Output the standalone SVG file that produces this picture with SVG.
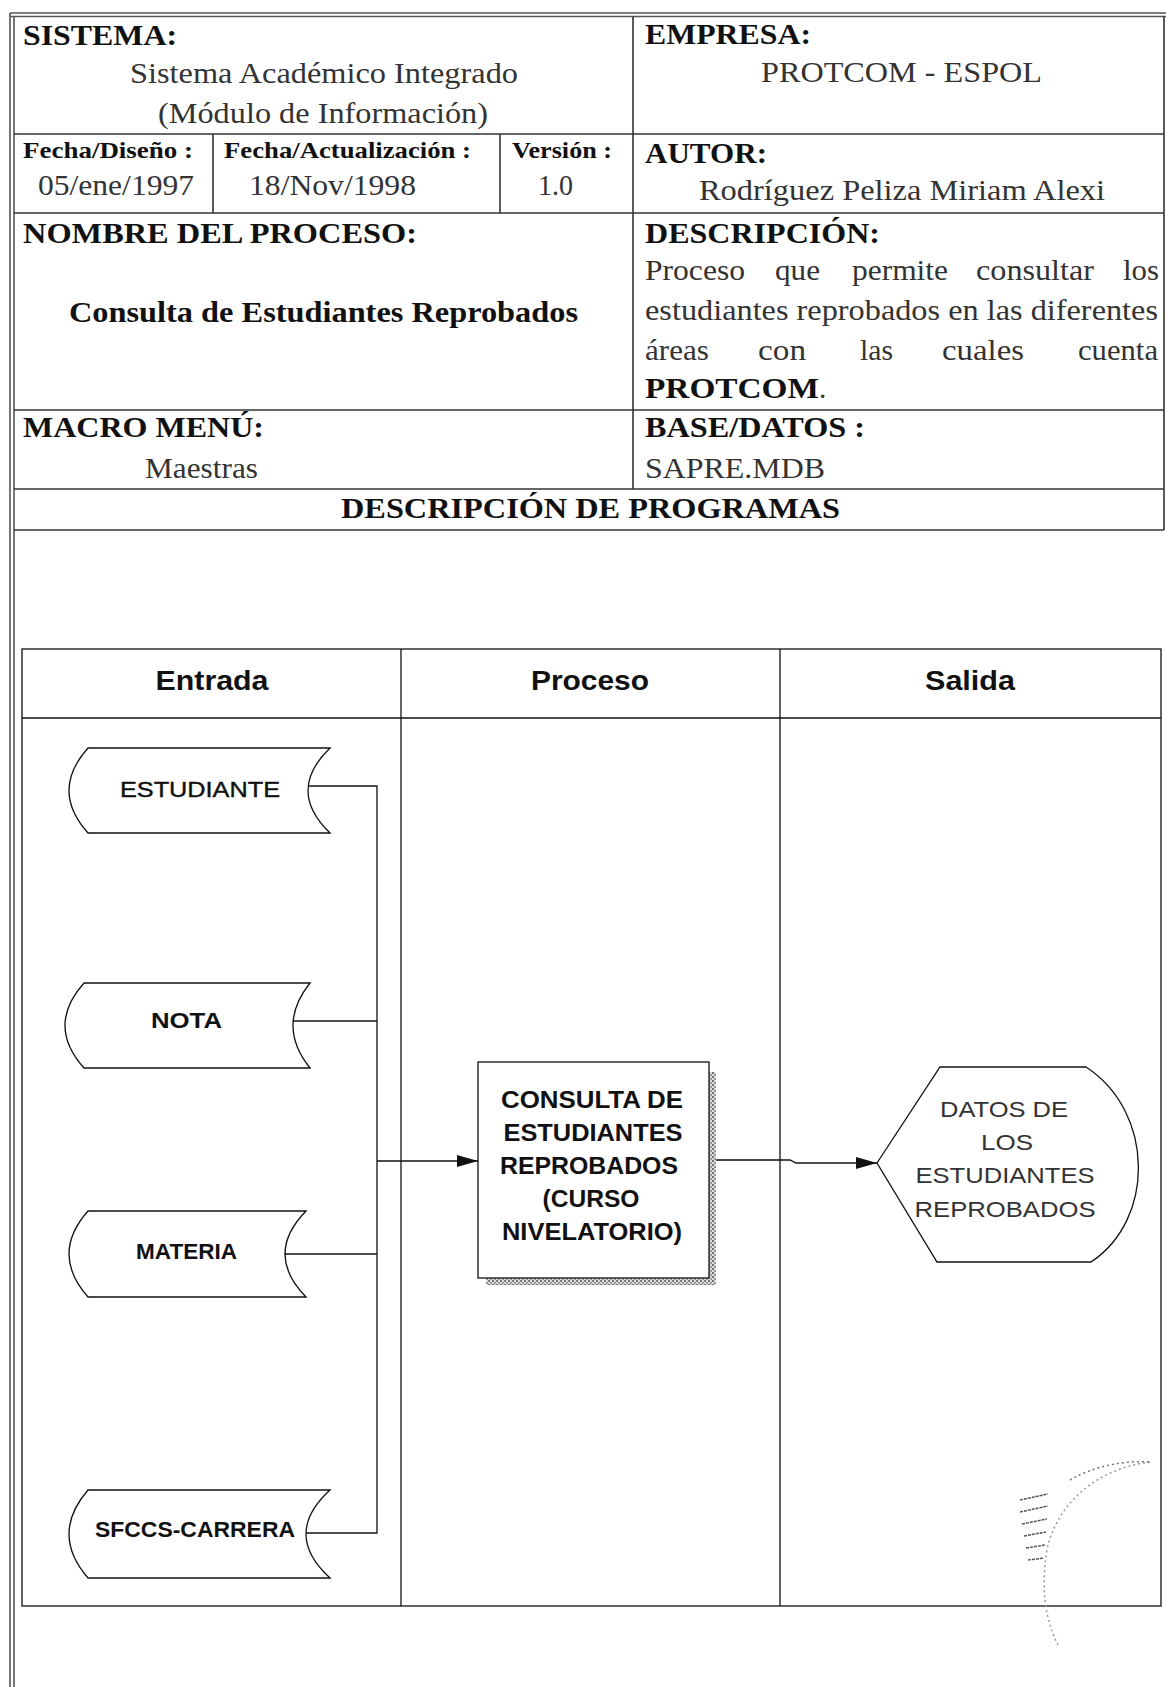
<svg xmlns="http://www.w3.org/2000/svg" width="1166" height="1687" viewBox="0 0 1166 1687">
<defs>
<style>
.frame{fill:none;stroke:#555;stroke-width:1.6}
.grid{fill:none;stroke:#333;stroke-width:1.6}
.hb{font-family:"Liberation Serif","Times New Roman",serif;font-weight:bold;font-size:29px;fill:#111}
.hs{font-family:"Liberation Serif","Times New Roman",serif;font-weight:bold;font-size:24px;fill:#111}
.hr{font-family:"Liberation Serif","Times New Roman",serif;font-size:29px;fill:#333}
.box{fill:#fff;stroke:#111;stroke-width:1.3}
.line{fill:none;stroke:#111;stroke-width:1.3}
.colh{font-family:"Liberation Sans",Arial,sans-serif;font-weight:bold;font-size:27px;fill:#111;text-anchor:middle}
.lbl{font-family:"Liberation Sans",Arial,sans-serif;font-size:22px;fill:#111;stroke:#111;stroke-width:0.4}
.lblb{font-family:"Liberation Sans",Arial,sans-serif;font-weight:bold;font-size:22px;fill:#111}
.prc{font-family:"Liberation Sans",Arial,sans-serif;font-weight:bold;font-size:23px;fill:#111}
.out{font-family:"Liberation Sans",Arial,sans-serif;font-size:22px;fill:#333}
</style>
<marker id="arr" markerUnits="userSpaceOnUse" markerWidth="22" markerHeight="14" refX="21" refY="7" orient="auto">
<path d="M0,1 L21,7 L0,13 Z" fill="#111"/>
</marker>
<pattern id="hatch" width="4" height="4" patternUnits="userSpaceOnUse">
<rect width="4" height="4" fill="#ddd"/>
<rect width="2" height="2" fill="#777"/>
<rect x="2" y="2" width="2" height="2" fill="#999"/>
</pattern>
</defs>
<rect width="1166" height="1687" fill="#fff"/>

<g id="header-frame">
<line class="frame" x1="10" y1="13" x2="1166" y2="13"/>
<line class="frame" x1="10" y1="16.5" x2="1166" y2="16.5"/>
<line class="frame" x1="10" y1="13" x2="10" y2="1687"/>
<line class="frame" x1="14" y1="16.5" x2="14" y2="1687"/>
<line class="grid" x1="1164" y1="16.5" x2="1164" y2="530" stroke="#999"/>
<line class="grid" x1="14" y1="134" x2="1164" y2="134"/>
<line class="grid" x1="14" y1="213" x2="1164" y2="213"/>
<line class="grid" x1="14" y1="410" x2="1164" y2="410"/>
<line class="grid" x1="14" y1="489" x2="1164" y2="489"/>
<line class="grid" x1="14" y1="530" x2="1164" y2="530"/>
<line class="grid" x1="633" y1="16.5" x2="633" y2="489"/>
<line class="grid" x1="213" y1="134" x2="213" y2="213"/>
<line class="grid" x1="500" y1="134" x2="500" y2="213"/>
</g>

<g id="header-texts">
<text class="hb" x="23" y="45" textLength="154" lengthAdjust="spacingAndGlyphs">SISTEMA:</text>
<text class="hr" x="130" y="83" textLength="388" lengthAdjust="spacingAndGlyphs">Sistema Académico Integrado</text>
<text class="hr" x="158" y="123" textLength="330" lengthAdjust="spacingAndGlyphs">(Módulo de Información)</text>
<text class="hb" x="645" y="44" textLength="166" lengthAdjust="spacingAndGlyphs">EMPRESA:</text>
<text class="hr" x="761" y="82" textLength="281" lengthAdjust="spacingAndGlyphs">PROTCOM - ESPOL</text>
<text class="hs" x="23" y="158" textLength="170" lengthAdjust="spacingAndGlyphs">Fecha/Diseño :</text>
<text class="hr" x="38" y="195" textLength="156" lengthAdjust="spacingAndGlyphs">05/ene/1997</text>
<text class="hs" x="224" y="158" textLength="247" lengthAdjust="spacingAndGlyphs">Fecha/Actualización :</text>
<text class="hr" x="249" y="195" textLength="167" lengthAdjust="spacingAndGlyphs">18/Nov/1998</text>
<text class="hs" x="512" y="158" textLength="100" lengthAdjust="spacingAndGlyphs">Versión :</text>
<text class="hr" x="538" y="195" textLength="35" lengthAdjust="spacingAndGlyphs">1.0</text>
<text class="hb" x="645" y="163" textLength="122" lengthAdjust="spacingAndGlyphs">AUTOR:</text>
<text class="hr" x="699" y="200" textLength="406" lengthAdjust="spacingAndGlyphs">Rodríguez Peliza Miriam Alexi</text>
<text class="hb" x="23" y="243" textLength="394" lengthAdjust="spacingAndGlyphs">NOMBRE DEL PROCESO:</text>
<text class="hb" x="69" y="322" textLength="509" lengthAdjust="spacingAndGlyphs">Consulta de Estudiantes Reprobados</text>
<text class="hb" x="645" y="243" textLength="235" lengthAdjust="spacingAndGlyphs">DESCRIPCIÓN:</text>
<text class="hr" x="645" y="280" textLength="100" lengthAdjust="spacingAndGlyphs">Proceso</text>
<text class="hr" x="775" y="280" textLength="45" lengthAdjust="spacingAndGlyphs">que</text>
<text class="hr" x="852" y="280" textLength="96" lengthAdjust="spacingAndGlyphs">permite</text>
<text class="hr" x="976" y="280" textLength="118" lengthAdjust="spacingAndGlyphs">consultar</text>
<text class="hr" x="1123" y="280" textLength="36" lengthAdjust="spacingAndGlyphs">los</text>
<text class="hr" x="645" y="320" textLength="513" lengthAdjust="spacingAndGlyphs">estudiantes reprobados en las diferentes</text>
<text class="hr" x="645" y="360" textLength="64" lengthAdjust="spacingAndGlyphs">áreas</text>
<text class="hr" x="758" y="360" textLength="48" lengthAdjust="spacingAndGlyphs">con</text>
<text class="hr" x="860" y="360" textLength="33" lengthAdjust="spacingAndGlyphs">las</text>
<text class="hr" x="942" y="360" textLength="82" lengthAdjust="spacingAndGlyphs">cuales</text>
<text class="hr" x="1078" y="360" textLength="80" lengthAdjust="spacingAndGlyphs">cuenta</text>
<text y="398"><tspan class="hb" x="645" textLength="174" lengthAdjust="spacingAndGlyphs">PROTCOM</tspan><tspan class="hr">.</tspan></text>
<text class="hb" x="23" y="437" textLength="241" lengthAdjust="spacingAndGlyphs">MACRO MENÚ:</text>
<text class="hr" x="145" y="478" textLength="113" lengthAdjust="spacingAndGlyphs">Maestras</text>
<text class="hb" x="645" y="437" textLength="220" lengthAdjust="spacingAndGlyphs">BASE/DATOS :</text>
<text class="hr" x="645" y="478" textLength="180" lengthAdjust="spacingAndGlyphs">SAPRE.MDB</text>
<text class="hb" x="341" y="518" textLength="499" lengthAdjust="spacingAndGlyphs">DESCRIPCIÓN DE PROGRAMAS</text>
</g>

<g id="swimlanes">
<rect class="line" x="22" y="649" width="1139" height="957"/>
<line class="line" x1="22" y1="718" x2="1161" y2="718"/>
<line class="line" x1="401" y1="649" x2="401" y2="1606"/>
<line class="line" x1="780" y1="649" x2="780" y2="1606"/>
<text class="colh" x="212" y="690" textLength="113" lengthAdjust="spacingAndGlyphs">Entrada</text>
<text class="colh" x="590" y="690" textLength="118" lengthAdjust="spacingAndGlyphs">Proceso</text>
<text class="colh" x="970" y="690" textLength="90" lengthAdjust="spacingAndGlyphs">Salida</text>
</g>

<g id="connectors">
<path class="line" d="M308,786 H377 V1533 H306"/>
<path class="line" d="M293,1021 H377"/>
<path class="line" d="M285,1254 H377"/>
<path class="line" d="M377,1161 H478" marker-end="url(#arr)"/>
<path class="line" d="M709,1160 H790 L796,1163 H877" marker-end="url(#arr)"/>
</g>

<g id="node-estudiante">
<path class="box" d="M88,748 H330 Q286,790.5 330,833 H88 Q50,790.5 88,748 Z"/>
<text class="lbl" x="120" y="797" textLength="160" lengthAdjust="spacingAndGlyphs">ESTUDIANTE</text>
</g>
<g id="node-nota">
<path class="box" d="M84,983 H310 Q276,1025.5 310,1068 H84 Q46,1025.5 84,983 Z"/>
<text class="lblb" x="151" y="1028" textLength="71" lengthAdjust="spacingAndGlyphs">NOTA</text>
</g>
<g id="node-materia">
<path class="box" d="M88,1211 H306 Q264,1254 306,1297 H88 Q50,1254 88,1211 Z"/>
<text class="lblb" x="136" y="1259" textLength="101" lengthAdjust="spacingAndGlyphs">MATERIA</text>
</g>
<g id="node-sfccs">
<path class="box" d="M88,1490 H330 Q282,1534 330,1578 H88 Q50,1534 88,1490 Z"/>
<text class="lblb" x="95" y="1537" textLength="200" lengthAdjust="spacingAndGlyphs">SFCCS-CARRERA</text>
</g>

<g id="node-proceso">
<rect x="709" y="1072" width="7" height="213" fill="url(#hatch)"/>
<rect x="486" y="1278" width="230" height="7" fill="url(#hatch)"/>
<rect class="box" x="478" y="1062" width="231" height="216"/>
<g class="prc" text-anchor="middle">
<text x="592" y="1108" textLength="182" lengthAdjust="spacingAndGlyphs">CONSULTA DE</text>
<text x="593" y="1141" textLength="179" lengthAdjust="spacingAndGlyphs">ESTUDIANTES</text>
<text x="589" y="1174" textLength="178" lengthAdjust="spacingAndGlyphs">REPROBADOS</text>
<text x="591" y="1207" textLength="97" lengthAdjust="spacingAndGlyphs">(CURSO</text>
<text x="592" y="1240" textLength="180" lengthAdjust="spacingAndGlyphs">NIVELATORIO)</text>
</g>
</g>

<g id="node-salida">
<path class="box" d="M877,1163 L940,1067 H1086 C1155,1112 1155,1220 1091,1262 H937 Z"/>
<g class="out" text-anchor="middle">
<text x="1004" y="1117" textLength="128" lengthAdjust="spacingAndGlyphs">DATOS DE</text>
<text x="1007" y="1150" textLength="52" lengthAdjust="spacingAndGlyphs">LOS</text>
<text x="1005" y="1183" textLength="179" lengthAdjust="spacingAndGlyphs">ESTUDIANTES</text>
<text x="1005" y="1217" textLength="181" lengthAdjust="spacingAndGlyphs">REPROBADOS</text>
</g>
</g>

<g id="stamp" fill="none" stroke="#999" stroke-width="1.5" stroke-dasharray="2 3">
<path d="M1150,1462 C1100,1468 1060,1500 1048,1545 C1040,1585 1045,1620 1058,1645"/>
<path d="M1070,1480 C1090,1468 1120,1460 1150,1462" stroke="#777"/>
<path d="M1020,1500 L1048,1494 M1020,1512 L1048,1506 M1022,1524 L1047,1519 M1024,1536 L1046,1532 M1026,1548 L1045,1545 M1028,1560 L1044,1558" stroke="#555" stroke-dasharray="3 1"/>
</g>
</svg>
